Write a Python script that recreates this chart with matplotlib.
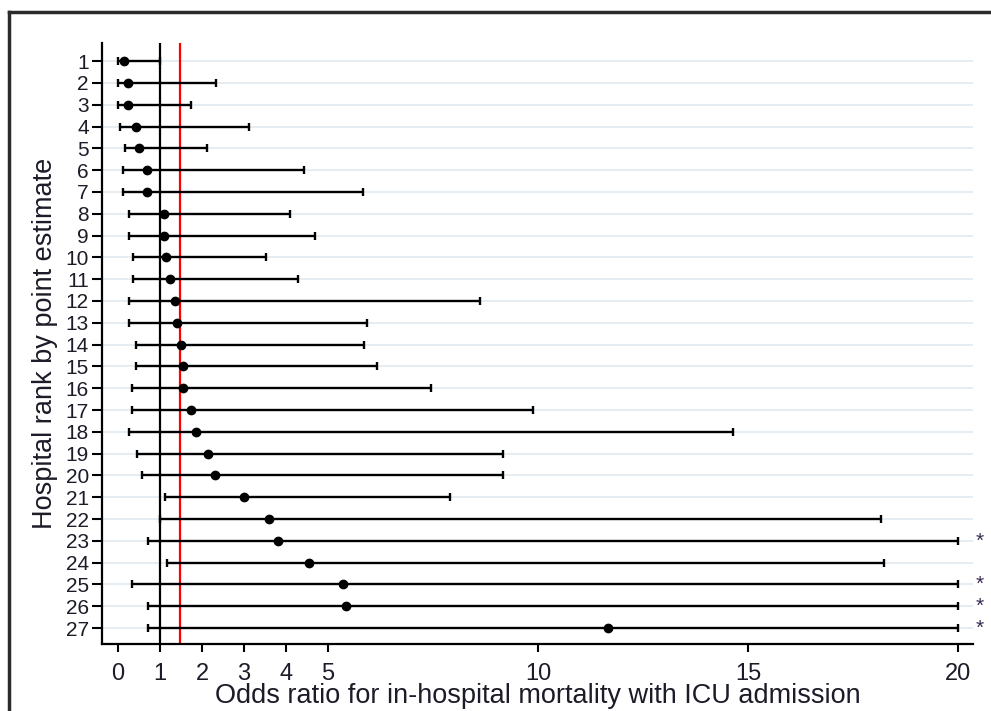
import matplotlib
matplotlib.use('Agg')
import matplotlib.pyplot as plt
from matplotlib.lines import Line2D

# ---- data ----
ranks = list(range(1, 28))
point = [0.14, 0.24, 0.24, 0.44, 0.50, 0.70, 0.70, 1.10, 1.10, 1.14,
         1.25, 1.35, 1.40, 1.49, 1.55, 1.55, 1.74, 1.86, 2.15, 2.31,
         3.01, 3.60, 3.82, 4.56, 5.36, 5.42, 11.68]
lower = [0.00, 0.00, 0.00, 0.06, 0.17, 0.11, 0.11, 0.27, 0.27, 0.36,
         0.36, 0.26, 0.26, 0.42, 0.42, 0.33, 0.33, 0.26, 0.46, 0.58,
         1.12, 0.99, 0.72, 1.17, 0.33, 0.72, 0.72]
upper = [0.99, 2.33, 1.73, 3.13, 2.13, 4.43, 5.84, 4.10, 4.69, 3.52,
         4.29, 8.61, 5.94, 5.86, 6.18, 7.45, 9.89, 14.64, 9.18, 9.18,
         7.90, 18.17, 20.0, 18.23, 20.0, 20.0, 20.0]
truncated = [23, 25, 26, 27]       # upper limit cut at 20 (marked *)
null_or = 1.0
ref_or = 1.48
xticks = [0, 1, 2, 3, 4, 5, 10, 15, 20]
xlabel = "Odds ratio for in-hospital mortality with ICU admission"
ylabel = "Hospital rank by point estimate"

plt.rcParams['font.family'] = ['Liberation Sans', 'DejaVu Sans']
txt = '#1c1c28'

fig = plt.figure(figsize=(9.91, 7.11), dpi=100)
ax = fig.add_axes([102/991, 1-644/711, (973-102)/991, (644-43)/711])
ax.set_xlim(-0.38, 20.36)
ax.set_ylim(27.73, 0.17)

ax.yaxis.grid(True, color='#e3ecf1', lw=1.3)
ax.set_axisbelow(True)

xerr = [[p - l for p, l in zip(point, lower)],
        [u - p for p, u in zip(point, upper)]]
ax.axvline(null_or, color='black', lw=1.6, zorder=2)
ax.axvline(ref_or, color='#ff0000', lw=1.6, zorder=2.5)
ax.errorbar(point, ranks, xerr=xerr, fmt='o', color='black', ms=6,
            elinewidth=1.7, capsize=3, capthick=1.7, zorder=3)

for r in truncated:
    ax.text(20.52, r, '*', ha='center', va='center', fontsize=15,
            color='#3a2a55', clip_on=False)

for s in ('top', 'right'):
    ax.spines[s].set_visible(False)
for s in ('left', 'bottom'):
    ax.spines[s].set_linewidth(1.6)

ax.set_xticks(xticks)
ax.set_xticklabels([str(v) for v in xticks])
ax.set_yticks(ranks)
ax.set_yticklabels([str(r) for r in ranks])
ax.tick_params(axis='x', length=6, width=1.5, pad=8, labelsize=17,
               labelcolor=txt)
ax.tick_params(axis='y', length=7.5, width=1.5, pad=2, labelsize=15,
               labelcolor=txt)
ax.set_xlabel(xlabel, fontsize=19.5, color=txt, labelpad=-1.5)
ax.set_ylabel(ylabel, fontsize=19.5, color=txt, labelpad=5)

# outer frame (top and left edges)
fig.add_artist(Line2D([9/991, 1], [1-12/711, 1-12/711],
                      transform=fig.transFigure, color='#2b2b2b', lw=2.5))
fig.add_artist(Line2D([9/991, 9/991], [0, 1-12/711],
                      transform=fig.transFigure, color='#2b2b2b', lw=2.5))

fig.savefig('out.png', dpi=100)
